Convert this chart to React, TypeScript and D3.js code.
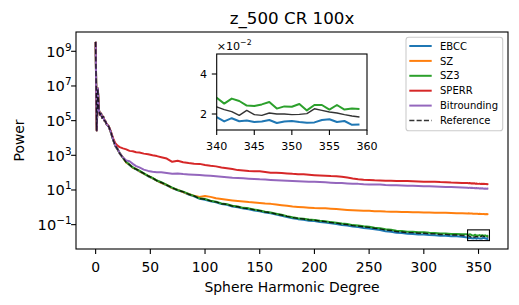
import React from 'react';
import * as d3 from 'd3';

// spherical harmonic degree sampled along the spectrum
const degrees = [
  0, 1, 2, 3, 4, 5, 6, 7, 8, 9, 10,
  12, 14, 16, 18, 20,
  22, 25, 28, 31, 34, 37, 40,
  44, 48, 52, 56, 60,
  65, 70, 75, 80, 85, 90, 95, 100, 105, 110, 115, 120, 125, 130, 135, 140, 145, 150,
  155, 160, 165, 170, 175, 180, 185, 190, 195, 200, 205, 210, 215, 220, 225, 230, 235, 240,
  245, 250, 255, 260, 265, 270, 275, 280, 285, 290, 295, 300, 305, 310, 315, 320, 325, 330, 335,
  340, 341, 342, 343, 344, 345, 346, 347, 348, 349, 350, 351, 352, 353, 354, 355, 356, 357, 358, 359,
];

const ebcc = [
  3.4e9, 2.6e4, 7.0e6, 4.2e5, 2.1e5, 2.5e5, 1.5e5, 1.6e5, 1.05e5, 8.6e4, 6.4e4,
  4.4e4, 2.0e4, 8.3e3, 3.4e3, 2.2e3,
  1.25e3, 7.0e2, 4.0e2, 2.8e2, 1.95e2, 1.55e2, 1.2e2,
  87, 62, 47, 35, 26,
  18.5, 13, 9.5, 7.5, 5.5, 4.3, 3.1, 2.75, 2.25, 1.95, 1.55, 1.4, 1.12, 1.0, 0.85, 0.78, 0.66, 0.59,
  0.5, 0.45, 0.38, 0.33, 0.275, 0.235, 0.208, 0.192, 0.17, 0.162, 0.144, 0.135, 0.12, 0.109, 0.096, 0.089, 0.078, 0.072,
  0.065, 0.06, 0.054, 0.049, 0.042, 0.039, 0.0345, 0.0325, 0.03, 0.0292, 0.027, 0.0272, 0.0252, 0.0246, 0.0231, 0.0231, 0.0215, 0.0212, 0.0201,
  0.0184, 0.0163, 0.0179, 0.0164, 0.0167, 0.016, 0.0162, 0.017, 0.0155, 0.0162, 0.0165, 0.016, 0.0156, 0.0158, 0.017, 0.0174, 0.016, 0.0165, 0.0146, 0.0148,
];

const sz = [
  3.5e9, 2.7e4, 7.0e6, 4.0e5, 2.2e5, 2.6e5, 1.4e5, 1.7e5, 1.0e5, 8.8e4, 6.3e4,
  4.5e4, 2.0e4, 8.1e3, 3.5e3, 2.25e3,
  1.3e3, 7.4e2, 3.8e2, 2.9e2, 1.9e2, 1.62e2, 1.22e2,
  88, 66, 48, 35, 26,
  19.5, 13, 10.2, 7.5, 5.9, 4.6, 3.9, 4.5, 4.0, 3.3, 3.0, 2.75, 2.5, 2.3, 2.15, 2.0, 1.9, 1.78,
  1.65, 1.58, 1.45, 1.32, 1.22, 1.12, 1.05, 1.0, 0.95, 0.91, 0.89, 0.87, 0.83, 0.79, 0.75, 0.71, 0.68, 0.66,
  0.64, 0.63, 0.6, 0.59, 0.57, 0.56, 0.55, 0.54, 0.53, 0.525, 0.515, 0.51, 0.5, 0.49, 0.485, 0.48, 0.465, 0.455, 0.45,
  0.445, 0.45, 0.44, 0.435, 0.44, 0.43, 0.425, 0.43, 0.42, 0.425, 0.415, 0.42, 0.41, 0.415, 0.405, 0.41, 0.4, 0.405, 0.4, 0.41,
];

const sz3 = [
  3.5e9, 2.9e4, 7.2e6, 4.1e5, 2.3e5, 2.5e5, 1.45e5, 1.65e5, 1.0e5, 9.2e4, 6.0e4,
  4.7e4, 2.1e4, 7.8e3, 3.7e3, 2.3e3,
  1.35e3, 7.2e2, 4.1e2, 2.85e2, 2.0e2, 1.6e2, 1.3e2,
  92, 65, 50, 35, 28,
  19.5, 13.8, 10, 8.0, 5.9, 4.6, 3.3, 3.0, 2.4, 2.1, 1.68, 1.52, 1.22, 1.1, 0.93, 0.87, 0.74, 0.66,
  0.56, 0.5, 0.43, 0.37, 0.31, 0.265, 0.237, 0.22, 0.196, 0.188, 0.168, 0.158, 0.14, 0.129, 0.115, 0.108, 0.094, 0.088,
  0.081, 0.076, 0.067, 0.062, 0.054, 0.051, 0.045, 0.043, 0.0395, 0.039, 0.0362, 0.0366, 0.0338, 0.0334, 0.031, 0.0313, 0.0292, 0.0289, 0.0275,
  0.0281, 0.0252, 0.0277, 0.0265, 0.0242, 0.024, 0.0248, 0.026, 0.0227, 0.0238, 0.0236, 0.025, 0.0218, 0.0245, 0.0245, 0.0222, 0.0245, 0.0222, 0.0227, 0.0225,
];

const sperr = [
  3.5e9, 2.8e4, 7.1e6, 4.1e5, 2.2e5, 2.5e5, 1.5e5, 1.6e5, 1.1e5, 9.0e4, 6.5e4,
  4.6e4, 2.3e4, 9.5e3, 5.0e3, 3.6e3,
  2.95e3, 2.5e3, 2.2e3, 1.8e3, 1.7e3, 1.5e3, 1.45e3,
  1.25e3, 1.15e3, 1.0e3, 9.0e2, 7.8e2,
  6.5e2, 4.2e2, 4.8e2, 4.0e2, 3.6e2, 3.3e2, 3.2e2, 2.8e2, 2.5e2, 2.3e2, 2.0e2, 1.8e2, 1.6e2, 1.4e2, 1.35e2, 1.25e2, 1.2e2, 1.2e2,
  110, 100, 98, 94, 90, 85, 82, 80, 75, 71, 68, 66, 63, 62, 58, 52, 46, 42,
  39, 38, 36, 35.5, 34.5, 34, 33.5, 33, 32.5, 32, 31, 30, 30, 29.5, 28.5, 28, 27, 26.5, 25.5,
  25, 24.5, 25.2, 24, 24.5, 23.5, 24.2, 23.2, 23.8, 23, 22.5, 23.2, 22.4, 22.8, 22, 22.6, 21.8, 22.3, 21.6, 22,
];

const bitrounding = [
  3.5e9, 2.8e4, 7.1e6, 4.0e5, 2.2e5, 2.6e5, 1.4e5, 1.7e5, 1.0e5, 9.0e4, 6.3e4,
  4.5e4, 2.1e4, 8.0e3, 3.6e3, 2.3e3,
  1.35e3, 7.5e2, 5.0e2, 4.5e2, 3.2e2, 2.4e2, 2.0e2,
  150, 126, 112, 107, 105,
  95, 87, 89, 83, 79, 76, 72, 69, 66, 62, 58, 55, 51, 49, 47, 45, 43, 41,
  40, 38, 36.5, 35.5, 34, 33, 32, 31, 30, 29.5, 28.5, 27.5, 26.5, 25.5, 25, 24, 23, 22.5,
  21.5, 21, 20.5, 20.5, 19.5, 19, 18.5, 18, 17.5, 17.3, 17, 16.6, 16.2, 15.8, 15.5, 15.1, 14.7, 14.2, 13.8,
  13.5, 13.2, 13.6, 13.0, 13.3, 12.8, 13.1, 12.6, 12.9, 12.5, 12.8, 12.2, 12.6, 12.1, 12.4, 11.9, 12.2, 11.8, 12.0, 11.7,
];

const reference = [
  3.5e9, 2.8e4, 7.1e6, 4.0e5, 2.2e5, 2.6e5, 1.4e5, 1.7e5, 1.0e5, 9.0e4, 6.2e4,
  4.6e4, 2.1e4, 8.0e3, 3.6e3, 2.3e3,
  1.3e3, 7.3e2, 3.9e2, 2.9e2, 1.9e2, 1.6e2, 1.25e2,
  90, 64, 49, 34, 27,
  19, 13.5, 9.8, 7.8, 5.7, 4.5, 3.2, 2.9, 2.35, 2.05, 1.62, 1.48, 1.18, 1.07, 0.9, 0.84, 0.71, 0.64,
  0.54, 0.49, 0.41, 0.36, 0.3, 0.255, 0.228, 0.212, 0.188, 0.18, 0.16, 0.15, 0.133, 0.122, 0.108, 0.101, 0.088, 0.082,
  0.075, 0.07, 0.062, 0.057, 0.049, 0.046, 0.04, 0.038, 0.035, 0.0345, 0.0318, 0.0322, 0.0297, 0.0292, 0.0272, 0.0274, 0.0255, 0.0252, 0.0238,
  0.0236, 0.0222, 0.0212, 0.0193, 0.0218, 0.0197, 0.0193, 0.0205, 0.02, 0.02, 0.0197, 0.0198, 0.0202, 0.0226, 0.0218, 0.021, 0.0205, 0.0197, 0.019, 0.0185,
];

const seriesNames = ['EBCC', 'SZ', 'SZ3', 'SPERR', 'Bitrounding', 'Reference'];
const seriesValues = [ebcc, sz, sz3, sperr, bitrounding, reference];
const seriesColors = ['#1f77b4', '#ff7f0e', '#2ca02c', '#d62728', '#9467bd', '#000000'];

const xTicks = [0, 50, 100, 150, 200, 250, 300, 350];
const yTickExponents = [-1, 1, 3, 5, 7, 9];
const insetXTicks = [340, 345, 350, 355, 360];
const insetYTicks = [2, 4]; // x 10^-2
const insetXRange = [340, 360];
const insetYRange = [0.012, 0.05];

const W = 519;
const H = 305;
const margin = { top: 32, right: 11, bottom: 56, left: 76 };
const inset = { left: 216.7, top: 54, right: 367, bottom: 130 };
const FONT = 'DejaVu Sans, sans-serif';

export default function App() {
  const x = d3.scaleLinear()
    .domain([-17.95, 376.95])
    .range([margin.left, W - margin.right]);

  const allVals = seriesValues.flat();
  const lo = Math.log10(d3.min(allVals) as number);
  const hi = Math.log10(d3.max(allVals) as number);
  const pad = (hi - lo) * 0.05;
  const y = d3.scaleLog()
    .domain([10 ** (lo - pad), 10 ** (hi + pad)])
    .range([H - margin.bottom, margin.top]);

  const ix = d3.scaleLinear().domain(insetXRange).range([inset.left, inset.right]);
  const iy = d3.scaleLinear().domain(insetYRange).range([inset.bottom, inset.top]);

  const mainLine = d3.line<number>().x((_, i) => x(degrees[i])).y(d => y(d));
  const insetLine = d3.line<number>().x((_, i) => ix(degrees[i])).y(d => iy(d));

  const x0 = margin.left;
  const x1 = W - margin.right;
  const y0 = margin.top;
  const y1 = H - margin.bottom;

  const strokeFor = (i: number) => ({
    stroke: seriesColors[i],
    strokeWidth: i === 5 ? 1.4 : 2,
    strokeDasharray: i === 5 ? '5.1,2.2' : undefined,
    strokeOpacity: i === 5 ? 0.8 : 1,
  });

  const legendRow = 14.9;
  const legendX = 406;
  const legendY = 37.3;

  return (
    <svg width={W} height={H} style={{ position: 'absolute', left: 0, top: 0, background: '#fff' }} fontFamily={FONT}>
      <defs>
        <clipPath id="mainClip"><rect x={x0} y={y0} width={x1 - x0} height={y1 - y0} /></clipPath>
        <clipPath id="insetClip"><rect x={inset.left} y={inset.top} width={inset.right - inset.left} height={inset.bottom - inset.top} /></clipPath>
      </defs>

      <text x={(x0 + x1) / 2} y={24} textAnchor="middle" fontSize={16.7}>z_500 CR 100x</text>

      <g clipPath="url(#mainClip)" fill="none" strokeLinejoin="round">
        {seriesValues.map((vals, i) => (
          <path key={seriesNames[i]} d={mainLine(vals) as string} {...strokeFor(i)} />
        ))}
      </g>

      {/* zoom indicator */}
      <rect
        x={x(insetXRange[0])}
        y={y(insetYRange[1])}
        width={x(insetXRange[1]) - x(insetXRange[0])}
        height={y(insetYRange[0]) - y(insetYRange[1])}
        fill="none" stroke="#000" strokeWidth={1.1}
      />

      <rect x={x0} y={y0} width={x1 - x0} height={y1 - y0} fill="none" stroke="#000" strokeWidth={1.1} />

      {xTicks.map(t => (
        <g key={t}>
          <line x1={x(t)} x2={x(t)} y1={y1} y2={y1 + 4.9} stroke="#000" strokeWidth={1.1} />
          <text x={x(t)} y={271.5} textAnchor="middle" fontSize={13.9}>{t}</text>
        </g>
      ))}
      {yTickExponents.map(e => (
        <g key={e}>
          <line x1={x0 - 4.9} x2={x0} y1={y(10 ** e)} y2={y(10 ** e)} stroke="#000" strokeWidth={1.1} />
          <text x={71.5} y={y(10 ** e) + 5.5} textAnchor="end" fontSize={14.6}>
            10<tspan dy={-6.2} fontSize={10.4}>{e < 0 ? '\u2212' + Math.abs(e) : e}</tspan>
          </text>
        </g>
      ))}

      <text x={(x0 + x1) / 2} y={291.5} textAnchor="middle" fontSize={13.9}>Sphere Harmonic Degree</text>
      <text transform={`translate(24,${(y0 + y1) / 2}) rotate(-90)`} textAnchor="middle" fontSize={13.9}>Power</text>

      {/* inset */}
      <rect x={inset.left} y={inset.top} width={inset.right - inset.left} height={inset.bottom - inset.top} fill="#fff" />
      <g clipPath="url(#insetClip)" fill="none" strokeLinejoin="round">
        {seriesValues.map((vals, i) => (
          <path key={seriesNames[i]} d={insetLine(vals) as string} {...strokeFor(i)} />
        ))}
      </g>
      <rect x={inset.left} y={inset.top} width={inset.right - inset.left} height={inset.bottom - inset.top} fill="none" stroke="#000" strokeWidth={1.1} />
      {insetXTicks.map(t => (
        <g key={t}>
          <line x1={ix(t)} x2={ix(t)} y1={inset.bottom} y2={inset.bottom + 4.9} stroke="#000" strokeWidth={1.1} />
          <text x={ix(t)} y={149.5} textAnchor="middle" fontSize={11.1}>{t}</text>
        </g>
      ))}
      {insetYTicks.map(t => (
        <g key={t}>
          <line x1={inset.left - 4.9} x2={inset.left} y1={iy(t / 100)} y2={iy(t / 100)} stroke="#000" strokeWidth={1.1} />
          <text x={207} y={iy(t / 100) + 4.1} textAnchor="end" fontSize={11.1}>{t}</text>
        </g>
      ))}
      <text x={inset.left} y={49.5} fontSize={11.1}>
        {'\u00d710'}<tspan dy={-4.5} fontSize={7.8}>{'\u22122'}</tspan>
      </text>

      {/* legend */}
      <rect x={legendX} y={legendY} width={96.7} height={93.4} rx={2.8} fill="#fff" fillOpacity={0.8} stroke="#cccccc" strokeWidth={1.1} />
      {seriesNames.map((name, i) => {
        const cy = 46 + i * legendRow;
        return (
          <g key={name}>
            <line x1={409.3} x2={431.7} y1={cy} y2={cy} {...strokeFor(i)} />
            <text x={440} y={cy + 3.6} fontSize={10}>{name}</text>
          </g>
        );
      })}
    </svg>
  );
}
